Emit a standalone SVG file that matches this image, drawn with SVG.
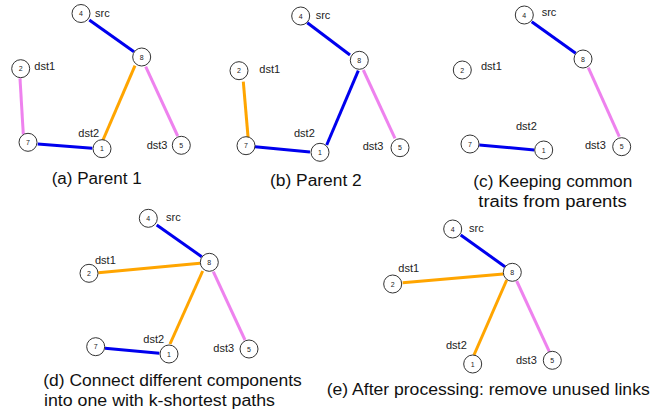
<svg xmlns="http://www.w3.org/2000/svg" width="651" height="416" viewBox="0 0 651 416">
<style>
  .e { stroke-width: 3; stroke-linecap: butt; fill: none; }
  .b { stroke: #0000ee; }
  .o { stroke: #ffa500; }
  .v { stroke: #ee82ee; }
  .n circle { fill: #fff; stroke: #333; stroke-width: 1; }
  .n text { font-family: "Liberation Sans", Arial, sans-serif; font-size: 7px; fill: #222; text-anchor: middle; }
  .lbl { font-family: "Liberation Sans", Arial, sans-serif; font-size: 11px; fill: #222; }
  .cap { font-family: "Liberation Sans", Arial, sans-serif; font-size: 16px; fill: #111; }
</style>
<rect width="651" height="416" fill="#fff"/>
<g id="connectors">
  <!-- (a) -->
  <line class="e b" x1="89.3" y1="20" x2="134" y2="51.7"/>
  <line class="e o" x1="135" y1="65.7" x2="103" y2="140"/>
  <line class="e v" x1="145.7" y1="66.7" x2="177.7" y2="136"/>
  <line class="e v" x1="20" y1="78.3" x2="23.3" y2="134.3"/>
  <line class="e b" x1="37.7" y1="144" x2="92.3" y2="148.3"/>
  <!-- (b) -->
  <line class="e b" x1="307.3" y1="22.7" x2="350" y2="55"/>
  <line class="e o" x1="243.3" y1="81.7" x2="248.3" y2="140"/>
  <line class="e b" x1="255" y1="146.7" x2="310" y2="152"/>
  <line class="e b" x1="358.3" y1="70.7" x2="326.7" y2="145"/>
  <line class="e v" x1="363.3" y1="70" x2="395" y2="138.3"/>
  <!-- (c) -->
  <line class="e b" x1="531.7" y1="21.7" x2="575.7" y2="53.3"/>
  <line class="e v" x1="588.3" y1="67.7" x2="619.3" y2="136.7"/>
  <line class="e b" x1="479.3" y1="145" x2="534.3" y2="150"/>
  <!-- (d) -->
  <line class="e b" x1="156.7" y1="225" x2="201.7" y2="256.7"/>
  <line class="e o" x1="98.3" y1="272.7" x2="200" y2="263.3"/>
  <line class="e o" x1="202.7" y1="271" x2="170" y2="344"/>
  <line class="e v" x1="213.3" y1="271.7" x2="245" y2="340"/>
  <line class="e b" x1="105" y1="348.3" x2="159.3" y2="353.3"/>
  <!-- (e) -->
  <line class="e b" x1="460.7" y1="235" x2="505" y2="266.7"/>
  <line class="e o" x1="402.7" y1="282.7" x2="503.3" y2="274"/>
  <line class="e o" x1="506.7" y1="280" x2="474" y2="355"/>
  <line class="e v" x1="516.7" y1="281" x2="549.3" y2="351.7"/>
</g>

<!-- Panel a -->
<g id="a-n4" class="n"><circle cx="81" cy="13.5" r="9"/><text x="81" y="16">4</text></g>
<g id="a-n8" class="n"><circle cx="141.7" cy="57" r="9"/><text x="141.7" y="59.5">8</text></g>
<g id="a-n2" class="n"><circle cx="20.7" cy="68.7" r="9"/><text x="20.7" y="71.2">2</text></g>
<g id="a-n7" class="n"><circle cx="28" cy="142.3" r="9"/><text x="28" y="144.8">7</text></g>
<g id="a-n1" class="n"><circle cx="102" cy="148.7" r="9"/><text x="102" y="151.2">1</text></g>
<g id="a-n5" class="n"><circle cx="181.3" cy="145.3" r="9"/><text x="181.3" y="147.8">5</text></g>
<text class="lbl" x="95" y="16.5">src</text>
<text class="lbl" x="34.3" y="70">dst1</text>
<text class="lbl" x="78.3" y="136.7">dst2</text>
<text class="lbl" x="146.7" y="149">dst3</text>
<text class="cap" x="51.7" y="184" textLength="90" lengthAdjust="spacingAndGlyphs">(a) Parent 1</text>

<!-- Panel b -->
<g id="b-n4" class="n"><circle cx="300.7" cy="16" r="9"/><text x="300.7" y="18.5">4</text></g>
<g id="b-n8" class="n"><circle cx="359.3" cy="60.3" r="9"/><text x="359.3" y="62.8">8</text></g>
<g id="b-n2" class="n"><circle cx="239" cy="70.7" r="9"/><text x="239" y="73.2">2</text></g>
<g id="b-n7" class="n"><circle cx="246" cy="145.7" r="9"/><text x="246" y="148.2">7</text></g>
<g id="b-n1" class="n"><circle cx="320" cy="152.3" r="9"/><text x="320" y="154.8">1</text></g>
<g id="b-n5" class="n"><circle cx="400" cy="147.7" r="9"/><text x="400" y="150.2">5</text></g>
<text class="lbl" x="315.7" y="19">src</text>
<text class="lbl" x="259.3" y="73.3">dst1</text>
<text class="lbl" x="294" y="136.7">dst2</text>
<text class="lbl" x="362.7" y="150">dst3</text>
<text class="cap" x="270" y="186" textLength="91.7" lengthAdjust="spacingAndGlyphs">(b) Parent 2</text>

<!-- Panel c -->
<g id="c-n4" class="n"><circle cx="524.3" cy="15" r="9"/><text x="524.3" y="17.5">4</text></g>
<g id="c-n8" class="n"><circle cx="583" cy="59" r="9"/><text x="583" y="61.5">8</text></g>
<g id="c-n2" class="n"><circle cx="462.3" cy="70" r="9"/><text x="462.3" y="72.5">2</text></g>
<g id="c-n7" class="n"><circle cx="470" cy="144" r="9"/><text x="470" y="146.5">7</text></g>
<g id="c-n1" class="n"><circle cx="543.7" cy="150" r="9"/><text x="543.7" y="152.5">1</text></g>
<g id="c-n5" class="n"><circle cx="621.7" cy="146.7" r="9"/><text x="621.7" y="149.2">5</text></g>
<text class="lbl" x="541.7" y="15.7">src</text>
<text class="lbl" x="481" y="70">dst1</text>
<text class="lbl" x="516" y="130">dst2</text>
<text class="lbl" x="585" y="149">dst3</text>
<text class="cap" x="473.3" y="186.7" textLength="159" lengthAdjust="spacingAndGlyphs">(c) Keeping common</text>
<text class="cap" x="478.3" y="206.7" textLength="148.4" lengthAdjust="spacingAndGlyphs">traits from parents</text>

<!-- Panel d -->
<g id="d-n4" class="n"><circle cx="148.3" cy="218.3" r="9"/><text x="148.3" y="220.8">4</text></g>
<g id="d-n8" class="n"><circle cx="209.3" cy="262.3" r="9"/><text x="209.3" y="264.8">8</text></g>
<g id="d-n2" class="n"><circle cx="89" cy="273.3" r="9"/><text x="89" y="275.8">2</text></g>
<g id="d-n7" class="n"><circle cx="95.7" cy="346.7" r="9"/><text x="95.7" y="349.2">7</text></g>
<g id="d-n1" class="n"><circle cx="169" cy="354" r="9"/><text x="169" y="356.5">1</text></g>
<g id="d-n5" class="n"><circle cx="249" cy="349" r="9"/><text x="249" y="351.5">5</text></g>
<text class="lbl" x="166" y="220.7">src</text>
<text class="lbl" x="95" y="264">dst1</text>
<text class="lbl" x="143.3" y="342.7">dst2</text>
<text class="lbl" x="213.3" y="351.7">dst3</text>
<text class="cap" x="43.3" y="385.7" textLength="258.4" lengthAdjust="spacingAndGlyphs">(d) Connect different components</text>
<text class="cap" x="44" y="405.7" textLength="231" lengthAdjust="spacingAndGlyphs">into one with k-shortest paths</text>

<!-- Panel e -->
<g id="e-n4" class="n"><circle cx="452.7" cy="229" r="9"/><text x="452.7" y="231.5">4</text></g>
<g id="e-n8" class="n"><circle cx="512.3" cy="272.3" r="9"/><text x="512.3" y="274.8">8</text></g>
<g id="e-n2" class="n"><circle cx="392.7" cy="284" r="9"/><text x="392.7" y="286.5">2</text></g>
<g id="e-n1" class="n"><circle cx="472.7" cy="364" r="9"/><text x="472.7" y="366.5">1</text></g>
<g id="e-n5" class="n"><circle cx="552.3" cy="360.3" r="9"/><text x="552.3" y="362.8">5</text></g>
<text class="lbl" x="469" y="232.3">src</text>
<text class="lbl" x="398.3" y="271.7">dst1</text>
<text class="lbl" x="446" y="349.3">dst2</text>
<text class="lbl" x="516" y="364">dst3</text>
<text class="cap" x="326.7" y="395" textLength="323" lengthAdjust="spacingAndGlyphs">(e) After processing: remove unused links</text>
</svg>
